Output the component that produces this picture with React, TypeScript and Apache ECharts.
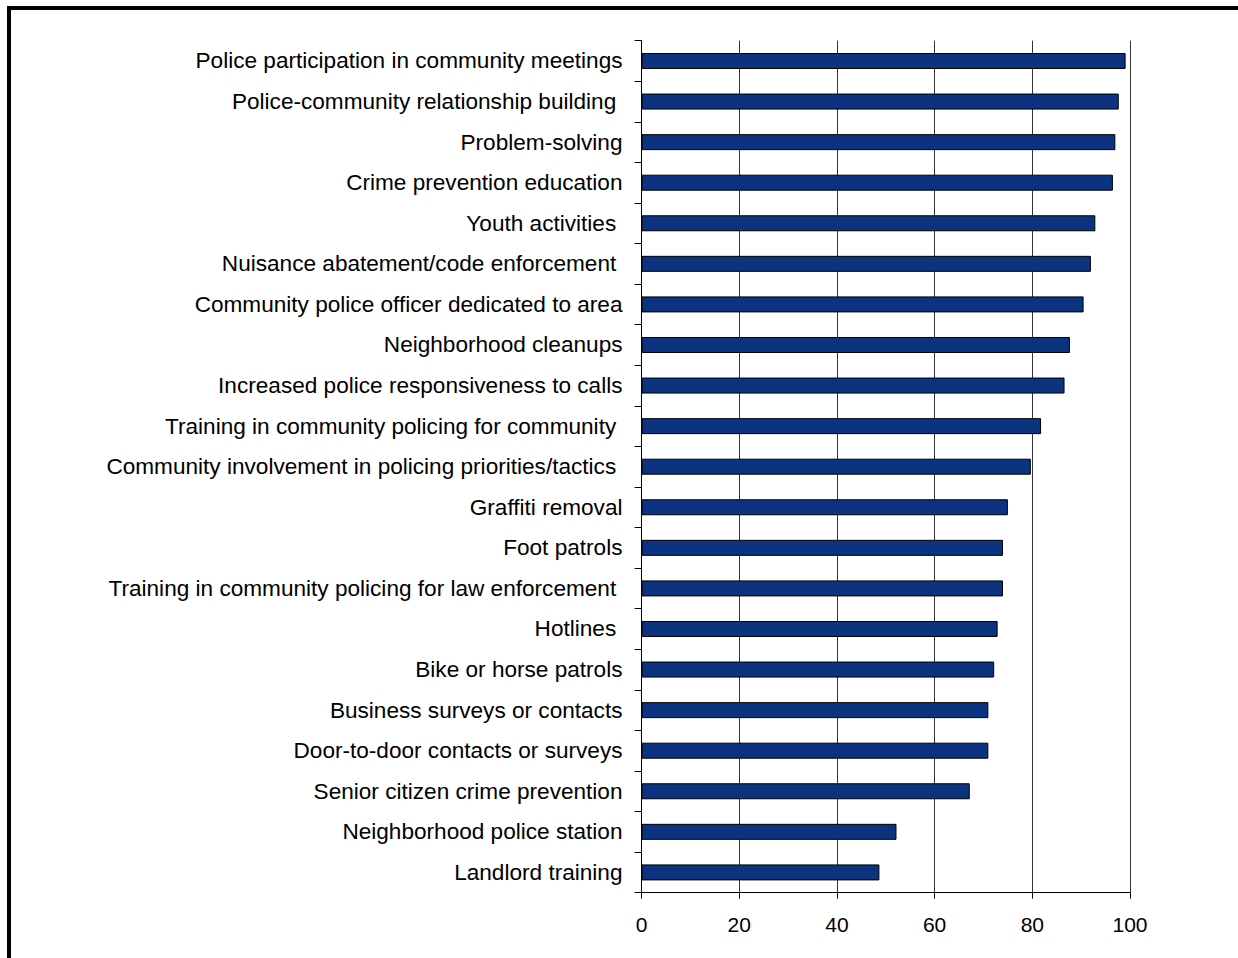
import React, { useEffect, useRef } from "react";
import * as echarts from "echarts";

const categories = [
  "Police participation in community meetings",
  "Police-community relationship building ",
  "Problem-solving",
  "Crime prevention education",
  "Youth activities ",
  "Nuisance abatement/code enforcement ",
  "Community police officer dedicated to area",
  "Neighborhood cleanups",
  "Increased police responsiveness to calls",
  "Training in community policing for community ",
  "Community involvement in policing priorities/tactics ",
  "Graffiti removal",
  "Foot patrols",
  "Training in community policing for law enforcement ",
  "Hotlines ",
  "Bike or horse patrols",
  "Business surveys or contacts",
  "Door-to-door contacts or surveys",
  "Senior citizen crime prevention",
  "Neighborhood police station",
  "Landlord training",
];

const values = [
  99.1, 97.7, 97.0, 96.5, 92.9, 92.0, 90.5, 87.7, 86.6, 81.8, 79.7, 75.0, 74.0,
  74.0, 72.9, 72.2, 71.0, 71.0, 67.2, 52.2, 48.7,
];

const xTicks = [0, 20, 40, 60, 80, 100];

export default function App() {
  const ref = useRef<HTMLDivElement>(null);
  useEffect(() => {
    if (!ref.current) return;
    const chart = echarts.init(ref.current, undefined, { renderer: "svg" });
    chart.setOption({
      animation: false,
      backgroundColor: "#ffffff",
      textStyle: { fontFamily: "Liberation Sans, Arial, sans-serif" },
      graphic: [
        {
          type: "rect",
          shape: { x: 9, y: 8, width: 1240, height: 1000 },
          style: { fill: "none", stroke: "#000", lineWidth: 4 },
          silent: true,
        },
      ],
      grid: { left: 641.5, right: 108, top: 40.7, bottom: 65.3, containLabel: false },
      xAxis: {
        type: "value",
        min: xTicks[0],
        max: xTicks[xTicks.length - 1],
        interval: 20,
        axisLine: { show: true, lineStyle: { color: "#000", width: 1 } },
        axisTick: { show: true, length: 6, lineStyle: { color: "#000" } },
        axisLabel: {
          color: "#000",
          fontSize: 21,
          margin: 21,
          fontFamily: "Liberation Sans, Arial, sans-serif",
        },
        splitLine: { show: true, lineStyle: { color: "#333", width: 1 } },
      },
      yAxis: {
        type: "category",
        data: categories,
        inverse: true,
        axisLine: { show: true, lineStyle: { color: "#000", width: 1 } },
        axisTick: { show: true, length: 7, alignWithLabel: false, lineStyle: { color: "#000" } },
        axisLabel: {
          color: "#000",
          fontSize: 22.6,
          margin: 19,
          interval: 0,
          fontFamily: "Liberation Sans, Arial, sans-serif",
        },
        splitLine: { show: false },
      },
      series: [
        {
          type: "bar",
          data: values,
          barWidth: 16,
          itemStyle: { color: "#0b3380", borderColor: "#000", borderWidth: 1 },
        },
      ],
    });
    return () => chart.dispose();
  }, []);
  return (
    <div
      ref={ref}
      style={{ position: "fixed", left: 0, top: 0, width: 1238, height: 958, background: "#fff" }}
    />
  );
}
